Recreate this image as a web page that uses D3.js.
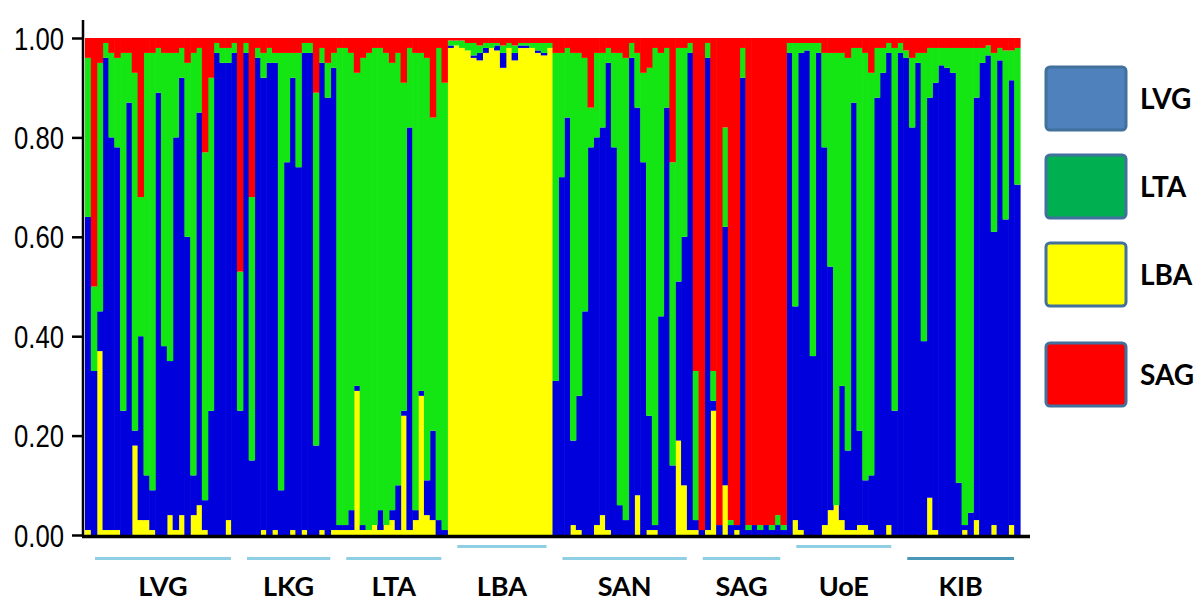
<!DOCTYPE html>
<html><head><meta charset="utf-8">
<script src="https://cdn.jsdelivr.net/npm/d3@7"></script>
<style>body{margin:0;background:#fff}svg{display:block}</style>
</head><body>
<svg id="c" width="1204" height="602"></svg>
<script>
// Cluster membership per individual (STRUCTURE K=4), left to right
const qLBA = [.01,0,.37,.01,.01,.01,0,0,.18,.03,.03,.01,0,0,.04,.01,.04,0,.04,.06,.01,0,0,0,.03,0,
  0,0,0,0,.01,0,.01,0,0,.01,0,.01,0,0,.01,0,.01,
  .01,.01,.01,.29,.01,.01,.02,.01,.02,.03,.01,.24,.01,.03,.28,.04,.03,0,0,
  .98,.985,.98,.975,.96,.955,.97,.98,.975,.94,.98,.955,.98,.98,.98,.97,.965,.98,
  0,0,0,.02,.01,0,0,.02,.04,.01,0,0,0,0,.08,0,.01,.01,0,0,0,.19,.10,.01,
  .01,0,.01,.25,0,.10,0,.01,0,0,0,0,0,0,0,0,
  0,.03,.01,0,0,0,.02,.05,.06,.03,.01,.01,.02,.02,.01,0,0,.02,0,
  0,0,0,0,0,.075,.01,0,0,0,0,.01,0,.03,0,0,.02,0,0,.02,0];
const qLVG = [.63,.33,.08,.95,.79,.77,.25,.87,.03,.37,.09,.08,.89,.38,.31,.79,.88,.60,.08,.79,.06,.25,.97,.95,.92,.97,
  .25,.97,.15,.96,.91,.95,.94,.09,.75,.91,.74,.96,.97,.18,.94,.88,.93,
  .01,.01,.04,.01,.01,0,0,.04,0,.02,.09,.01,.81,.02,.01,.07,.18,.03,.01,
  .005,0,0,0,.005,.015,.01,0,.01,.03,0,.015,.005,.005,0,.005,.005,0,
  .31,.72,.84,.17,.27,.45,.78,.78,.78,.94,.78,.06,.03,.96,.78,.75,.23,.01,.44,.86,.14,.32,.50,.96,
  .02,.01,.95,.02,.02,.52,.02,.01,.92,.01,.02,.01,.02,.01,.02,.01,
  .97,.43,.96,.975,.36,.97,.76,.49,0,.27,.16,.86,.19,.09,.11,.88,.93,.95,.25,
  .97,.96,.82,.95,.39,.805,.90,.945,.94,.93,.105,.01,.045,.85,.95,.965,.59,.955,.635,.895,.705];
const qLTA = [.32,.17,.50,.03,.17,.18,.72,.10,.72,.28,.85,.88,.09,.59,.62,.17,.06,.35,.85,.13,.70,.67,.02,.03,.03,.02,
  .28,.02,.53,.02,.05,.03,.02,.88,.22,.05,.23,.02,.02,.71,.03,.07,.03,
  .96,.96,.92,.63,.94,.96,.96,.93,.95,.90,.87,.66,.16,.92,.68,.85,.63,.95,.90,
  .01,.01,.015,.015,.025,.015,.01,.01,.005,.015,.01,.015,.005,.005,.01,.015,.02,.01,
  .66,.25,.14,.78,.69,.51,.08,.17,.15,.03,.19,.91,.93,.03,.11,.18,.70,.96,.53,.12,.61,.47,.38,.02,
  .30,0,.03,.06,0,.20,.01,0,.06,.01,0,.01,0,.01,.02,.01,
  .02,.53,.02,.015,.63,.02,.19,.43,.91,.67,.79,.11,.77,.86,.81,.10,.05,.02,.73,
  .02,.015,.14,.02,.58,.10,.07,.035,.04,.05,.875,.96,.935,.10,.03,.02,.36,.025,.34,.06,.275];
const qSAG = [.04,.50,.05,.01,.03,.04,.03,.03,.07,.32,.03,.03,.02,.03,.03,.03,.02,.05,.03,.02,.23,.08,.01,.02,.02,.01,
  .47,.01,.32,.02,.03,.02,.03,.03,.03,.03,.03,.01,.01,.11,.02,.05,.03,
  .02,.02,.03,.07,.04,.03,.02,.02,.03,.05,.03,.09,.02,.03,.03,.04,.16,.02,.09,
  .005,.005,.005,.01,.01,.015,.01,.01,.01,.015,.01,.015,.01,.01,.01,.01,.01,.01,
  .03,.03,.02,.03,.03,.04,.14,.03,.03,.02,.03,.03,.04,.01,.03,.07,.06,.02,.03,.02,.25,.02,.02,.01,
  .67,.99,.01,.67,.98,.18,.97,.98,.02,.98,.98,.98,.98,.98,.96,.98,
  .01,.01,.01,.01,.01,.01,.03,.03,.03,.03,.04,.02,.02,.03,.07,.02,.02,.01,.02,
  .01,.025,.04,.03,.03,.02,.02,.02,.02,.02,.02,.02,.02,.02,.02,.015,.03,.02,.025,.025,.02];

const groupNames = ["LVG","LKG","LTA","LBA","SAN","SAG","UoE","KIB"];
const groupSizes = [26,17,19,18,24,16,19,21];
const clusterKeys = ["LBA","LVG","LTA","SAG"];          // stacking order, bottom to top
const legendKeys  = ["LVG","LTA","LBA","SAG"];
const yTicks = [0,0.2,0.4,0.6,0.8,1.0];

const barColor = {LVG:"#0000dc", LTA:"#14e614", LBA:"#ffff00", SAG:"#ff0000"};
const legendColor = {LVG:"#4f81bd", LTA:"#00b050", LBA:"#ffff00", SAG:"#ff0000"};

const rows = qLVG.map((_, i) => ({i, LBA:qLBA[i], LVG:qLVG[i], LTA:qLTA[i], SAG:qSAG[i]}));
const N = rows.length;

const svg = d3.select("#c");
const x = d3.scaleBand().domain(d3.range(N)).range([85, 1020]).padding(0);
const y = d3.scaleLinear().domain([0,1]).range([535, 38]);

const series = d3.stack().keys(clusterKeys).offset(d3.stackOffsetExpand)(rows);

svg.append("g").selectAll("g").data(series).join("g")
  .attr("fill", d => barColor[d.key])
  .selectAll("rect").data(d => d).join("rect")
  .attr("x", d => x(d.data.i))
  .attr("width", x.bandwidth() + 0.6)
  .attr("y", d => y(d[1]))
  .attr("height", d => Math.max(0, y(d[0]) - y(d[1])));

// Y axis
const yAxis = svg.append("g").attr("transform","translate(83,0)")
  .call(d3.axisLeft(y).tickValues(yTicks).tickFormat(d3.format(".2f")).tickSize(11).tickSizeOuter(0));
yAxis.select(".domain").remove();
yAxis.selectAll(".tick line").attr("stroke","#000").attr("stroke-width",2.5);
yAxis.selectAll(".tick text")
  .attr("x",-19).attr("dy","0.36em")
  .attr("textLength", 50).attr("lengthAdjust","spacingAndGlyphs")
  .style("font-family","'Liberation Sans', Arial, sans-serif")
  .style("font-size","31px").attr("fill","#000");
svg.append("line").attr("x1",83).attr("x2",83).attr("y1",20).attr("y2",537)
  .attr("stroke","#000").attr("stroke-width",2.5);
// X baseline
svg.append("line").attr("x1",82).attr("x2",1030).attr("y1",536.5).attr("y2",536.5)
  .attr("stroke","#000").attr("stroke-width",3.5);

// Group underlines and labels
let start = 0;
const raised = {LBA:true, UoE:true};
groupNames.forEach((g, k) => {
  const end = start + groupSizes[k];
  const x0 = x(start), x1 = x(end - 1) + x.bandwidth();
  const ly = raised[g] ? 546.5 : 558.5;
  svg.append("line").attr("x1", x0 + 10).attr("x2", x1 - 6).attr("y1", ly).attr("y2", ly)
    .attr("stroke", g === "KIB" ? "#4a98b8" : "#8fcfe3").attr("stroke-width", 3);
  svg.append("text").attr("x", (x0 + x1) / 2 + 2).attr("y", 596)
    .attr("text-anchor","middle")
    .style("font-family","Lato, 'Open Sans', sans-serif").style("font-weight","bold")
    .style("font-size","27px").attr("fill","#000").text(g);
  start = end;
});

// Legend
const legY = d3.scaleOrdinal().domain(legendKeys).range([99, 187, 275, 375]);
const lg = svg.append("g").selectAll("g").data(legendKeys).join("g");
lg.append("rect").attr("x",1046).attr("y", d => legY(d) - 32)
  .attr("width",80).attr("height",63).attr("rx",4)
  .attr("fill", d => legendColor[d]).attr("stroke","#41719c").attr("stroke-width",3);
lg.append("text").attr("x",1140).attr("y", d => legY(d))
  .attr("dy","0.36em")
  .style("font-family","Lato, 'Open Sans', sans-serif").style("font-weight","bold")
  .style("font-size","28px").attr("fill","#000").text(d => d);
</script>
</body></html>
